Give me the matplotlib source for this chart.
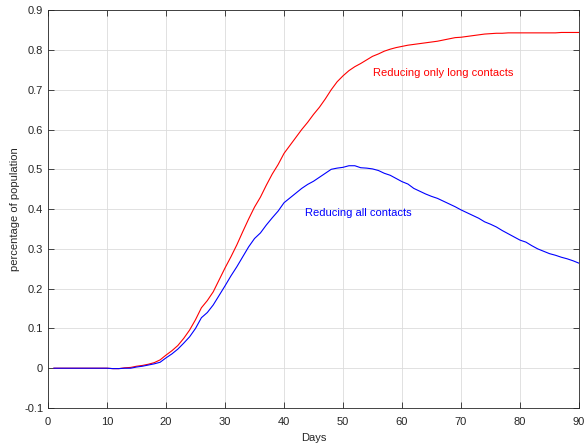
import numpy as np
import matplotlib
matplotlib.use('Agg')
import matplotlib.pyplot as plt

plt.rcParams['font.family'] = ['Liberation Sans', 'DejaVu Sans']

# days 1..90
dias = np.arange(1, 91)

# reducing only long contacts (red)
so_longos = [0, 0, 0, 0, 0, 0, 0, 0, 0, 0,
             -0.001, -0.001, 0.001, 0.002, 0.005, 0.007, 0.010, 0.014, 0.021, 0.033,
             0.044, 0.057, 0.075, 0.096, 0.122, 0.152, 0.170, 0.192, 0.222, 0.252,
             0.280, 0.310, 0.343, 0.375, 0.405, 0.430, 0.460, 0.488, 0.512, 0.540,
             0.560, 0.580, 0.600, 0.618, 0.638, 0.656, 0.677, 0.700, 0.720, 0.735,
             0.748, 0.758, 0.766, 0.775, 0.784, 0.790, 0.797, 0.802, 0.806, 0.809,
             0.812, 0.814, 0.816, 0.818, 0.820, 0.822, 0.825, 0.828, 0.831, 0.832,
             0.834, 0.836, 0.838, 0.840, 0.841, 0.842, 0.842, 0.843, 0.843, 0.843,
             0.843, 0.843, 0.843, 0.843, 0.843, 0.843, 0.844, 0.844, 0.844, 0.844]

# reducing all contacts (blue)
todos = [0, 0, 0, 0, 0, 0, 0, 0, 0, 0,
         -0.001, -0.001, 0, 0, 0.003, 0.005, 0.008, 0.011, 0.015, 0.026,
         0.036, 0.048, 0.063, 0.079, 0.100, 0.127, 0.140, 0.159, 0.183, 0.207,
         0.232, 0.255, 0.280, 0.305, 0.326, 0.340, 0.360, 0.378, 0.395, 0.416,
         0.428, 0.440, 0.452, 0.462, 0.470, 0.480, 0.490, 0.500, 0.503, 0.505,
         0.509, 0.509, 0.504, 0.503, 0.501, 0.497, 0.490, 0.485, 0.477, 0.469,
         0.463, 0.452, 0.445, 0.438, 0.432, 0.427, 0.420, 0.413, 0.406, 0.398,
         0.391, 0.384, 0.377, 0.368, 0.362, 0.355, 0.346, 0.338, 0.330, 0.322,
         0.317, 0.308, 0.300, 0.294, 0.288, 0.284, 0.279, 0.275, 0.270, 0.264]

fig = plt.figure(figsize=(5.87, 4.43), dpi=100)
ax = fig.add_axes([0.0818, 0.079, 0.9046, 0.898])

ax.plot(dias, so_longos, color='#ff0000', linewidth=0.8)
ax.plot(dias, todos, color='#0000ff', linewidth=0.8)

ax.text(55, 0.742, 'Reducing only long contacts', color='#ff0000', fontsize=8, va='center')
ax.text(43.6, 0.39, 'Reducing all contacts', color='#0000ff', fontsize=8, va='center')

ax.set_xlim(0, 90)
ax.set_ylim(-0.1, 0.9)
ax.set_xticks(np.arange(0, 91, 10))
ax.set_yticks(np.round(np.arange(-0.1, 0.91, 0.1), 1))
ax.set_yticklabels(['-0.1', '0', '0.1', '0.2', '0.3', '0.4', '0.5', '0.6', '0.7', '0.8', '0.9'])
ax.grid(True, color='#dcdcdc', linewidth=0.6)
ax.tick_params(direction='in', top=True, right=True, labelsize=8, colors='#262626', length=4, width=0.6)
ax.tick_params(axis='x', pad=6.5)
for s in ax.spines.values():
    s.set_color('#262626')
    s.set_linewidth(0.6)

ax.set_xlabel('Days', fontsize=8, color='#262626', labelpad=4)
ax.set_ylabel('percentage of population', fontsize=8, color='#262626', labelpad=3)

fig.savefig('out.png', dpi=100)
